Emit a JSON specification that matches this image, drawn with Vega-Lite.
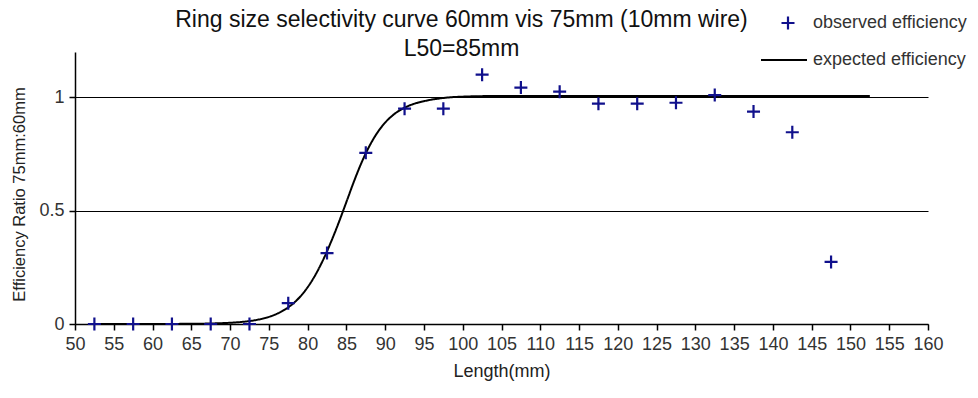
{
  "$schema": "https://vega.github.io/schema/vega-lite/v6.json",
  "autosize": {"type": "none"},
  "width": 853,
  "height": 272,
  "padding": {"left": 75, "top": 52, "right": 50, "bottom": 74},
  "background": "white",
  "config": {
    "font": "Liberation Sans",
    "view": {"stroke": null}
  },
  "title": {
    "text": ["Ring size selectivity curve 60mm vis 75mm (10mm wire)", "L50=85mm"],
    "fontSize": 23,
    "fontWeight": "normal",
    "font": "Liberation Sans",
    "color": "#111111",
    "lineHeight": 29,
    "anchor": "middle",
    "frame": "group",
    "dx": -40,
    "dy": 49,
    "offset": 2
  },
  "datasets": {
    "observed": [
      {"length": 52.5, "efficiency": 0},
      {"length": 57.5, "efficiency": 0},
      {"length": 62.5, "efficiency": 0},
      {"length": 67.5, "efficiency": 0},
      {"length": 72.5, "efficiency": 0},
      {"length": 77.5, "efficiency": 0.092},
      {"length": 82.5, "efficiency": 0.313},
      {"length": 87.5, "efficiency": 0.755},
      {"length": 92.5, "efficiency": 0.95},
      {"length": 97.5, "efficiency": 0.95},
      {"length": 102.5, "efficiency": 1.1},
      {"length": 107.5, "efficiency": 1.043},
      {"length": 112.5, "efficiency": 1.025},
      {"length": 117.5, "efficiency": 0.972},
      {"length": 122.5, "efficiency": 0.972},
      {"length": 127.5, "efficiency": 0.976},
      {"length": 132.5, "efficiency": 1.01},
      {"length": 137.5, "efficiency": 0.937},
      {"length": 142.5, "efficiency": 0.846},
      {"length": 147.5, "efficiency": 0.274}
    ],
    "expected": [
      {"length": 52.5, "efficiency": 0},
      {"length": 60, "efficiency": 0.0002},
      {"length": 65, "efficiency": 0.0009},
      {"length": 68, "efficiency": 0.0027},
      {"length": 70, "efficiency": 0.0054},
      {"length": 71, "efficiency": 0.0077},
      {"length": 72, "efficiency": 0.011},
      {"length": 73, "efficiency": 0.0156},
      {"length": 74, "efficiency": 0.0222},
      {"length": 75, "efficiency": 0.0314},
      {"length": 76, "efficiency": 0.0443},
      {"length": 77, "efficiency": 0.0622},
      {"length": 78, "efficiency": 0.0865},
      {"length": 79, "efficiency": 0.1192},
      {"length": 80, "efficiency": 0.1621},
      {"length": 81, "efficiency": 0.2166},
      {"length": 82, "efficiency": 0.2832},
      {"length": 83, "efficiency": 0.3609},
      {"length": 84, "efficiency": 0.4466},
      {"length": 85, "efficiency": 0.5384},
      {"length": 86, "efficiency": 0.6313},
      {"length": 87, "efficiency": 0.7158},
      {"length": 88, "efficiency": 0.7871},
      {"length": 89, "efficiency": 0.8445},
      {"length": 90, "efficiency": 0.8886},
      {"length": 91, "efficiency": 0.9214},
      {"length": 92, "efficiency": 0.9451},
      {"length": 93, "efficiency": 0.962},
      {"length": 94, "efficiency": 0.9745},
      {"length": 95, "efficiency": 0.983},
      {"length": 96, "efficiency": 0.99},
      {"length": 97, "efficiency": 0.995},
      {"length": 98, "efficiency": 0.999},
      {"length": 100, "efficiency": 1.003},
      {"length": 102, "efficiency": 1.005},
      {"length": 105, "efficiency": 1.006},
      {"length": 152.5, "efficiency": 1.006}
    ]
  },
  "encoding": {
    "x": {
      "field": "length",
      "type": "quantitative",
      "scale": {"domain": [50, 160], "nice": false, "zero": false},
      "axis": {
        "title": "Length(mm)",
        "values": [50,55,60,65,70,75,80,85,90,95,100,105,110,115,120,125,130,135,140,145,150,155,160],
        "grid": false,
        "labelOverlap": false,
        "labelBound": false,
        "labelFlush": false,
        "domainColor": "#000000",
        "domainWidth": 1.5,
        "tickColor": "#000000",
        "tickWidth": 1.5,
        "tickSize": 6,
        "labelFontSize": 18,
        "labelColor": "#333333",
        "labelPadding": 5,
        "titleFontSize": 18,
        "titleFontWeight": "normal",
        "titleColor": "#222222",
        "titlePadding": 9
      }
    },
    "y": {
      "field": "efficiency",
      "type": "quantitative",
      "scale": {"domain": [0, 1.2], "nice": false},
      "axis": {
        "title": "Efficiency Ratio 75mm:60mm",
        "values": [0, 0.5, 1],
        "format": ".1~f",
        "grid": true,
        "gridColor": "#000000",
        "gridWidth": 1,
        "gridOpacity": 1,
        "labelOverlap": false,
        "domainColor": "#000000",
        "domainWidth": 1.5,
        "tickColor": "#000000",
        "tickWidth": 1.5,
        "tickSize": 6,
        "labelFontSize": 18,
        "labelColor": "#333333",
        "labelPadding": 5,
        "titleFontSize": 16.5,
        "titleFontWeight": "normal",
        "titleColor": "#222222",
        "titlePadding": 11,
        "titleY": 142
      }
    }
  },
  "layer": [
    {
      "data": {"name": "expected"},
      "mark": {"type": "line", "color": "#000000", "strokeWidth": 2, "interpolate": "monotone"},
      "encoding": {
        "strokeDash": {
          "datum": "expected efficiency",
          "scale": {"range": [[1, 0]]},
          "legend": {
            "title": null,
            "orient": "none",
            "legendX": 685,
            "legendY": -16,
            "padding": 0,
            "symbolType": "stroke",
            "symbolSize": 2116,
            "symbolStrokeColor": "#000000",
            "symbolStrokeWidth": 1.8,
            "labelFontSize": 18,
            "labelColor": "#333333",
            "labelOffset": 5
          }
        }
      }
    },
    {
      "data": {"name": "observed"},
      "mark": {"type": "point", "filled": false, "color": "#10108c", "strokeWidth": 2.2, "size": 169, "opacity": 1},
      "encoding": {
        "shape": {
          "datum": "observed efficiency",
          "scale": {"range": ["M-1,0H1M0,-1V1"]},
          "legend": {
            "title": null,
            "orient": "none",
            "legendX": 704,
            "legendY": -38,
            "padding": 0,
            "symbolSize": 169,
            "symbolStrokeColor": "#10108c",
            "symbolFillColor": "transparent",
            "symbolStrokeWidth": 2.2,
            "labelFontSize": 18,
            "labelColor": "#333333",
            "labelOffset": 16
          }
        }
      }
    }
  ]
}
